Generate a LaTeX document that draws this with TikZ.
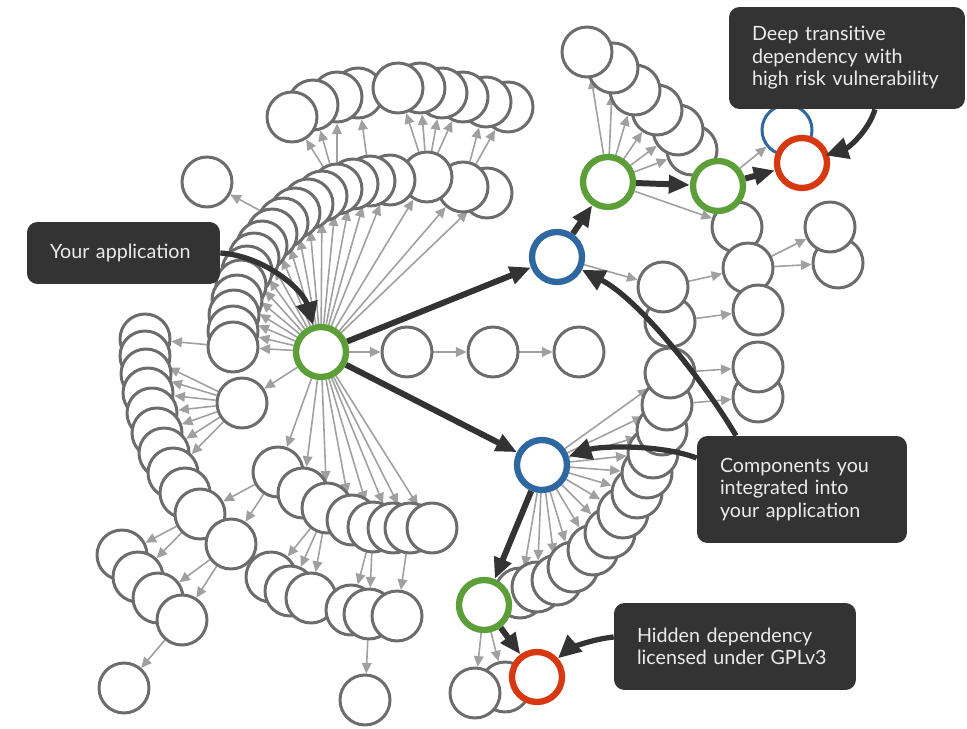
\documentclass[tikz,border=0pt]{standalone}
\usepackage{fontspec}
\setmainfont{Lato}
\usetikzlibrary{arrows.meta}
\definecolor{ink}{HTML}{333333}
\definecolor{ring}{HTML}{6C6C6C}
\definecolor{wire}{HTML}{A0A0A0}
\definecolor{okgreen}{HTML}{5C9E37}
\definecolor{pkgblue}{HTML}{2F68A0}
\definecolor{riskred}{HTML}{D8380F}
\pgfdeclarelayer{bg}
\pgfsetlayers{bg,main}

\begin{document}
\begin{tikzpicture}[x=0.02cm, y=-0.02cm,
  dep/.style={circle, draw=ring, line width=1.7pt, fill=white, minimum size=1cm, inner sep=0pt},
  own/.style={circle, draw=okgreen, line width=3.6pt, fill=white, minimum size=1cm, inner sep=0pt},
  comp/.style={own, draw=pkgblue},
  risk/.style={own, draw=riskred},
  arr/.style={-{Triangle[length=6pt,width=5.5pt]}, wire, line width=0.9pt},
  heavy/.style={-{Triangle[length=12pt,width=10pt]}, ink, line width=3.4pt},
  note/.style={rectangle, rounded corners=6pt, fill=ink, text=white!92!black, align=left, font=\fontsize{11.2}{12.8}\selectfont, inner xsep=0.46cm},
  pointer/.style={-{Triangle[length=13pt,width=12pt]}, ink, line width=3pt}
]
\useasboundingbox (0,0) rectangle (967,729);
\foreach \n/\x/\y in {t4/358/93, t3/337/97, t2/313/105, t1/292/117, t10/508/107, t9/486/102, t8/463/97, t7/442/93, t6/420/88, t5/398/88}
  \node[dep] (\n) at (\x,\y) {};
\foreach \n/\x/\y in {a20/487/193, a19/463/187, a18/427/177, a17/390/180, a16/370/181, a15/353/184, a14/337/189, a13/322/196, a12/308/204, a11/295/213, a10/283/223, a9/272/234, a8/262/246, a7/254/258, a6/247/271, a5/241/285, a4/237/300, a3/234/315, a2/233/331, a1/233/347}
  \node[dep] (\n) at (\x,\y) {};
\node[dep] (s1) at (207,182) {};
\foreach \n/\x/\y in {l1/145/339, l2/145/356, l3/146/374, l4/148/393, l5/152/413, l6/157/433, l7/164/453, l8/173/473, l9/185/493, l10/200/514, l11/231/544}
  \node[dep] (\n) at (\x,\y) {};
\node[dep] (h1) at (242,403) {};
\foreach \n/\x/\y in {ll1/122/555, ll2/138/577, ll3/158/598, ll4/182/620, bl/124/688}
  \node[dep] (\n) at (\x,\y) {};
\foreach \n/\x/\y in {b1/278/472, b2/303/493, b3/327/508, b4/352/520, b5/373/527, b6/393/528, b7/410/528, b8/432/528}
  \node[dep] (\n) at (\x,\y) {};
\foreach \n/\x/\y in {u1/271/577, u2/290/591, u3/311/598, u4/351/610, u5/369/614, u6/397/616, bm/365/700}
  \node[dep] (\n) at (\x,\y) {};
\foreach \n/\x/\y in {m1/407/352, m2/493/352, m3/579/352}
  \node[dep] (\n) at (\x,\y) {};
\foreach \n/\x/\y in {r6/692/150, r5/678/130, r4/657/110, r3/635/90, r2/613/68, r1/587/52}
  \node[dep] (\n) at (\x,\y) {};
\foreach \n/\x/\y in {d1/737/227, d2/748/268, d3/758/310, e2/838/263, e1/830/227, f2/670/322, f1/663/287, k2/758/397, k1/758/367}
  \node[dep] (\n) at (\x,\y) {};
\foreach \n/\x/\y in {c13/520/593, c12/537/587, c11/557/580, c10/573/567, c9/593/550, c8/610/533, c7/623/513, c6/637/493, c5/647/473, c4/653/453, c3/662/430, c2/667/405, c1/670/373}
  \node[dep] (\n) at (\x,\y) {};
\node[dep] (w2) at (505,687) {};
\node[dep] (w1) at (475,693) {};
\node[dep, draw=pkgblue] (hb) at (787,130) {};
\node[own] (app) at (321,352) {};
\node[comp] (cA) at (557,257) {};
\node[comp] (cB) at (542,465) {};
\node[own] (g2) at (608,182) {};
\node[own] (g3) at (718,186) {};
\node[own] (g4) at (484,605) {};
\node[risk] (vuln) at (802,163) {};
\node[risk] (lic) at (537,677) {};
\begin{pgfonlayer}{bg}
\foreach \i in {1,...,20} \draw[arr] (app) -- (a\i);
\foreach \i in {1,...,8} \draw[arr] (app) -- (b\i);
\draw[arr] (app) -- (h1);
\draw[arr] (app) -- (m1);
\draw[arr] (m1) -- (m2);
\draw[arr] (m2) -- (m3);
\foreach \t in {t1,t2,t3} \draw[arr] (a14) -- (\t);
\draw[arr] (a16) -- (t4);
\foreach \t in {t5,t6,t7,t8} \draw[arr] (a18) -- (\t);
\foreach \t in {t9,t10} \draw[arr] (a19) -- (\t);
\draw[arr] (a10) -- (s1);
\draw[arr] (a1) -- (l1);
\foreach \i in {2,...,8} \draw[arr] (h1) -- (l\i);
\draw[arr] (b1) -- (l10);
\draw[arr] (b1) -- (l11);
\draw[arr] (l10) -- (ll1);
\draw[arr] (l10) -- (ll2);
\draw[arr] (l11) -- (ll3);
\draw[arr] (l11) -- (ll4);
\draw[arr] (ll4) -- (bl);
\foreach \t in {u1,u2,u3} \draw[arr] (b3) -- (\t);
\draw[arr] (b5) -- (u4);
\draw[arr] (b5) -- (u5);
\draw[arr] (b7) -- (u6);
\draw[arr] (u5) -- (bm);
\foreach \i in {1,...,6} \draw[arr] (g2) -- (r\i);
\draw[arr] (g2) -- (d1);
\draw[arr] (g3) -- (hb);
\draw[arr] (cA) -- (f1);
\draw[arr] (f1) -- (d2);
\draw[arr] (f2) -- (d3);
\draw[arr] (d2) -- (e1);
\draw[arr] (d2) -- (e2);
\draw[arr] (c1) -- (k1);
\draw[arr] (c2) -- (k2);
\foreach \i in {1,...,13} \draw[arr] (cB) -- (c\i);
\draw[arr] (g4) -- (w1);
\draw[arr] (g4) -- (w2);
\draw[heavy] (app) -- (cA);
\draw[heavy] (app) -- (cB);
\draw[heavy] (cA) -- (g2);
\draw[heavy] (g2) -- (g3);
\draw[heavy] (g3) -- (vuln);
\draw[heavy] (cB) -- (g4);
\draw[heavy] (g4) -- (lic);
\end{pgfonlayer}
\node[note, text width=2.94cm, minimum height=1.24cm] (yours) at (123.5,253) {Your application};
\node[note, text width=3.8cm, minimum height=2.04cm] (deep) at (847,58) {Deep transitive\\dependency with\\high risk vulnerability};
\node[note, text width=3.28cm, minimum height=2.14cm] (integ) at (802,489.5) {Components you\\integrated into\\your application};
\node[note, text width=3.92cm, minimum height=1.74cm] (hidden) at (735,646.5) {Hidden dependency\\licensed under GPLv3};
\draw[pointer] (yours.east) .. controls (265,256) and (303,290) .. (app);
\draw[pointer, shorten >=-2pt] ([xshift=0.56cm]deep.south) .. controls (868,132) and (848,148) .. (vuln);
\draw[pointer] ([xshift=-1.32cm]integ.north) .. controls (705,383) and (640,300) .. (cA);
\draw[pointer] ([yshift=0.63cm]integ.west) .. controls (660,444) and (600,446) .. (cB);
\draw[pointer] ([yshift=0.19cm]hidden.west) .. controls (585,640) and (565,652) .. (lic);
\end{tikzpicture}
\end{document}
